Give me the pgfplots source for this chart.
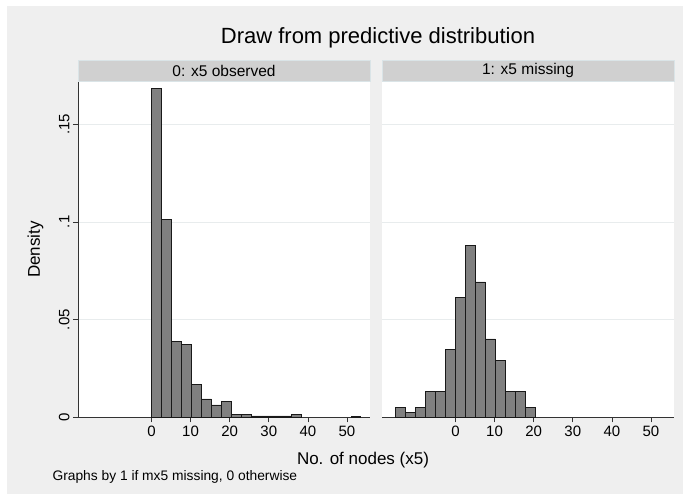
\documentclass[border=0pt]{standalone}
\usepackage{fontspec}
\setmainfont{Liberation Sans}
\usepackage{pgfplots}
\pgfplotsset{compat=1.18}

\definecolor{bggray}{RGB}{239,239,239}
\definecolor{stripgray}{RGB}{208,208,208}
\definecolor{stripedge}{RGB}{218,228,231}
\definecolor{gridgray}{RGB}{232,236,237}
\definecolor{bargray}{RGB}{128,128,128}

\pgfplotsset{
  panel/.style={
    scale only axis, width=292bp, height=335.3bp, anchor=south west,
    xmin=-18.8, xmax=55.9, ymin=0, ymax=0.1716,
    axis background/.style={fill=white},
    axis x line*=bottom, axis y line*=left,
    axis line style={black!80, line width=0.8bp, -},
    xtick={0,10,20,30,40,50},
    ytick={0,0.05,0.1,0.15},
    ymajorgrids, grid style={gridgray, line width=0.8bp},
    tick align=outside, major tick length=5bp,
    every tick/.style={black!80, line width=0.6bp},
    tick label style={font=\fontsize{15bp}{18bp}\selectfont},
    /pgf/number format/assume math mode=true,
  },
  bars/.style={ybar interval, fill=bargray, draw=black!90, line width=0.7bp},
}

\begin{document}
\begin{tikzpicture}
\fill[white] (0,0) rectangle (685bp,501bp);
\fill[bggray] (7bp,7bp) rectangle (683bp,495bp);

% strips
\filldraw[fill=stripgray, draw=stripedge] (78bp,420bp) rectangle (370bp,441bp);
\filldraw[fill=stripgray, draw=stripedge] (382bp,420bp) rectangle (674bp,441bp);
\node[font=\fontsize{15.5bp}{18bp}\selectfont] at (224bp,430.5bp) {0: x5 observed};
\node[font=\fontsize{15.5bp}{18bp}\selectfont] at (528bp,430.5bp) {1: x5 missing};

% titles
\node[font=\fontsize{22bp}{26bp}\selectfont, anchor=base] at (378bp,457.7bp) {Draw from predictive distribution};
\node[font=\fontsize{17bp}{20bp}\selectfont, anchor=base] at (363bp,37bp) {No. of nodes (x5)};
\node[font=\fontsize{13.8bp}{16bp}\selectfont, anchor=base west] at (49bp,21bp) {Graphs by 1 if mx5 missing, 0 otherwise};
\node[font=\fontsize{17bp}{20bp}\selectfont, rotate=90] at (35.5bp,251.5bp) {Density};

% 0: x5 observed
\begin{axis}[panel, at={(78bp,83.7bp)},
  yticklabels={0,.05,.1,.15},
  yticklabel style={rotate=90, anchor=south},
]
\addplot[bars] coordinates {
  (0,0.1682) (2.55,0.1012) (5.1,0.0387) (7.65,0.0373) (10.2,0.0170)
  (12.75,0.0094) (15.3,0.0063) (17.85,0.0080) (20.4,0.0015) (22.95,0.0015)
  (25.5,0.0007) (28.05,0.0007) (30.6,0.0007) (33.15,0.0007) (35.7,0.0015)
  (38.25,0)
};
\addplot[bars] coordinates {(51,0.0007) (53.55,0)};
\end{axis}

% 1: x5 missing
\begin{axis}[panel, at={(382bp,83.7bp)},
  yticklabels={},
  y axis line style={draw=none},
  ytick style={draw=none},
]
\addplot[bars] coordinates {
  (-15.3,0.0051) (-12.75,0.0026) (-10.2,0.0051) (-7.65,0.0134) (-5.1,0.0134)
  (-2.55,0.0346) (0,0.0613) (2.55,0.0880) (5.1,0.0693) (7.65,0.0401)
  (10.2,0.0293) (12.75,0.0134) (15.3,0.0134) (17.85,0.0051) (20.4,0)
};
\end{axis}
\end{tikzpicture}
\end{document}
